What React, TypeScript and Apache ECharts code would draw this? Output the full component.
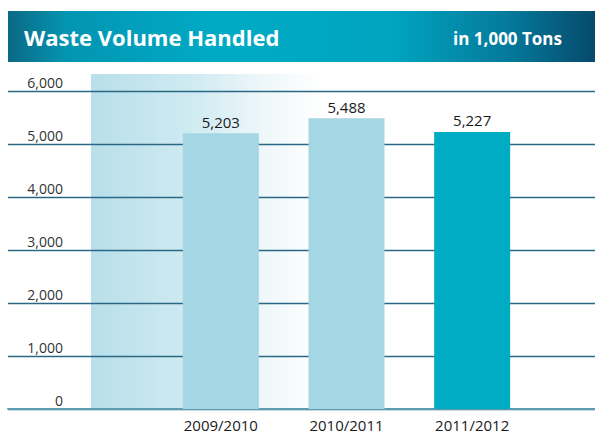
import React, { useEffect, useRef } from "react";
import * as echarts from "echarts";

const categories = ["2009/2010", "2010/2011", "2011/2012"];
const values = [5203, 5488, 5227];
const barColors = ["#a5d6e3", "#a5d6e3", "#00abc4"];
const yMin = 0;
const yMax = 6000;
const yStep = 1000;
const titleText = "Waste Volume Handled";
const unitText = "in 1,000 Tons";

const FONT = "'Open Sans', 'Noto Sans', sans-serif";
const fmt = (v: number) => v.toLocaleString("en-US");

export default function App() {
  const ref = useRef<HTMLDivElement>(null);
  useEffect(() => {
    const chart = echarts.init(ref.current!, null, { renderer: "svg" });
    chart.setOption({
      animation: false,
      backgroundColor: "#ffffff",
      textStyle: { fontFamily: FONT },
      graphic: [
        {
          type: "rect",
          z: -10,
          silent: true,
          shape: { x: 8, y: 11, width: 587, height: 51 },
          style: {
            fill: new echarts.graphic.LinearGradient(0, 0, 1, 0, [
              { offset: 0, color: "#0b6985" },
              { offset: 0.1, color: "#0395b2" },
              { offset: 0.35, color: "#00aac5" },
              { offset: 0.65, color: "#00a5c0" },
              { offset: 0.85, color: "#047a9c" },
              { offset: 1, color: "#064a6c" },
            ]),
          },
        },
        {
          type: "text",
          silent: true,
          x: 24,
          y: 37,
          style: {
            text: titleText,
            fill: "#ffffff",
            font: `bold 22px ${FONT}`,
            verticalAlign: "middle",
            align: "left",
          },
        },
        {
          type: "text",
          silent: true,
          x: 562,
          y: 38,
          style: {
            text: unitText,
            fill: "#ffffff",
            font: `bold 17px ${FONT}`,
            verticalAlign: "middle",
            align: "right",
          },
        },
        {
          type: "rect",
          z: -10,
          silent: true,
          shape: { x: 91, y: 74, width: 230, height: 335 },
          style: {
            fill: new echarts.graphic.LinearGradient(0, 0, 1, 0, [
              { offset: 0, color: "#b8dfea" },
              { offset: 0.45, color: "#d0ebf2" },
              { offset: 0.75, color: "#eef7fa" },
              { offset: 1, color: "#ffffff" },
            ]),
          },
        },
      ],
      grid: [
        { left: 8, right: 0, top: 91, bottom: 27 },
        { left: 158, right: 60, top: 91, bottom: 27 },
      ],
      xAxis: [
        {
          gridIndex: 0,
          type: "value",
          min: 0,
          max: 1,
          axisLine: { show: true, lineStyle: { color: "#5d9bb1", width: 2 } },
          axisTick: { show: false },
          axisLabel: { show: false },
          splitLine: { show: false },
        },
        {
          gridIndex: 1,
          type: "category",
          data: categories,
          axisLine: { show: false },
          axisTick: { show: false },
          axisLabel: { color: "#1a1a1a", fontSize: 15, margin: 8, fontFamily: FONT },
        },
      ],
      yAxis: [
        {
          gridIndex: 0,
          type: "value",
          min: yMin,
          max: yMax,
          interval: yStep,
          axisLine: { show: false },
          axisTick: { show: false },
          axisLabel: {
            inside: true,
            align: "right",
            margin: 55,
            verticalAlign: "bottom",
            padding: [0, 0, 2, 0],
            color: "#333333",
            fontSize: 14,
            fontFamily: FONT,
            formatter: (v: number) => fmt(v),
          },
          splitLine: { show: true, lineStyle: { color: "#2a6784", width: 1.3 } },
        },
        {
          gridIndex: 1,
          type: "value",
          min: yMin,
          max: yMax,
          interval: yStep,
          show: false,
          splitLine: { show: false },
        },
      ],
      series: [
        {
          type: "bar",
          xAxisIndex: 1,
          yAxisIndex: 1,
          barWidth: 76,
          data: values.map((v, i) => ({ value: v, itemStyle: { color: barColors[i] } })),
          label: {
            show: true,
            position: "top",
            distance: 4,
            color: "#1a1a1a",
            fontSize: 15,
            fontFamily: FONT,
            formatter: (p: any) => fmt(p.value),
          },
        },
      ],
    });
    return () => chart.dispose();
  }, []);
  return (
    <div
      ref={ref}
      style={{ position: "fixed", left: 0, top: 0, width: 595, height: 436 }}
    />
  );
}
